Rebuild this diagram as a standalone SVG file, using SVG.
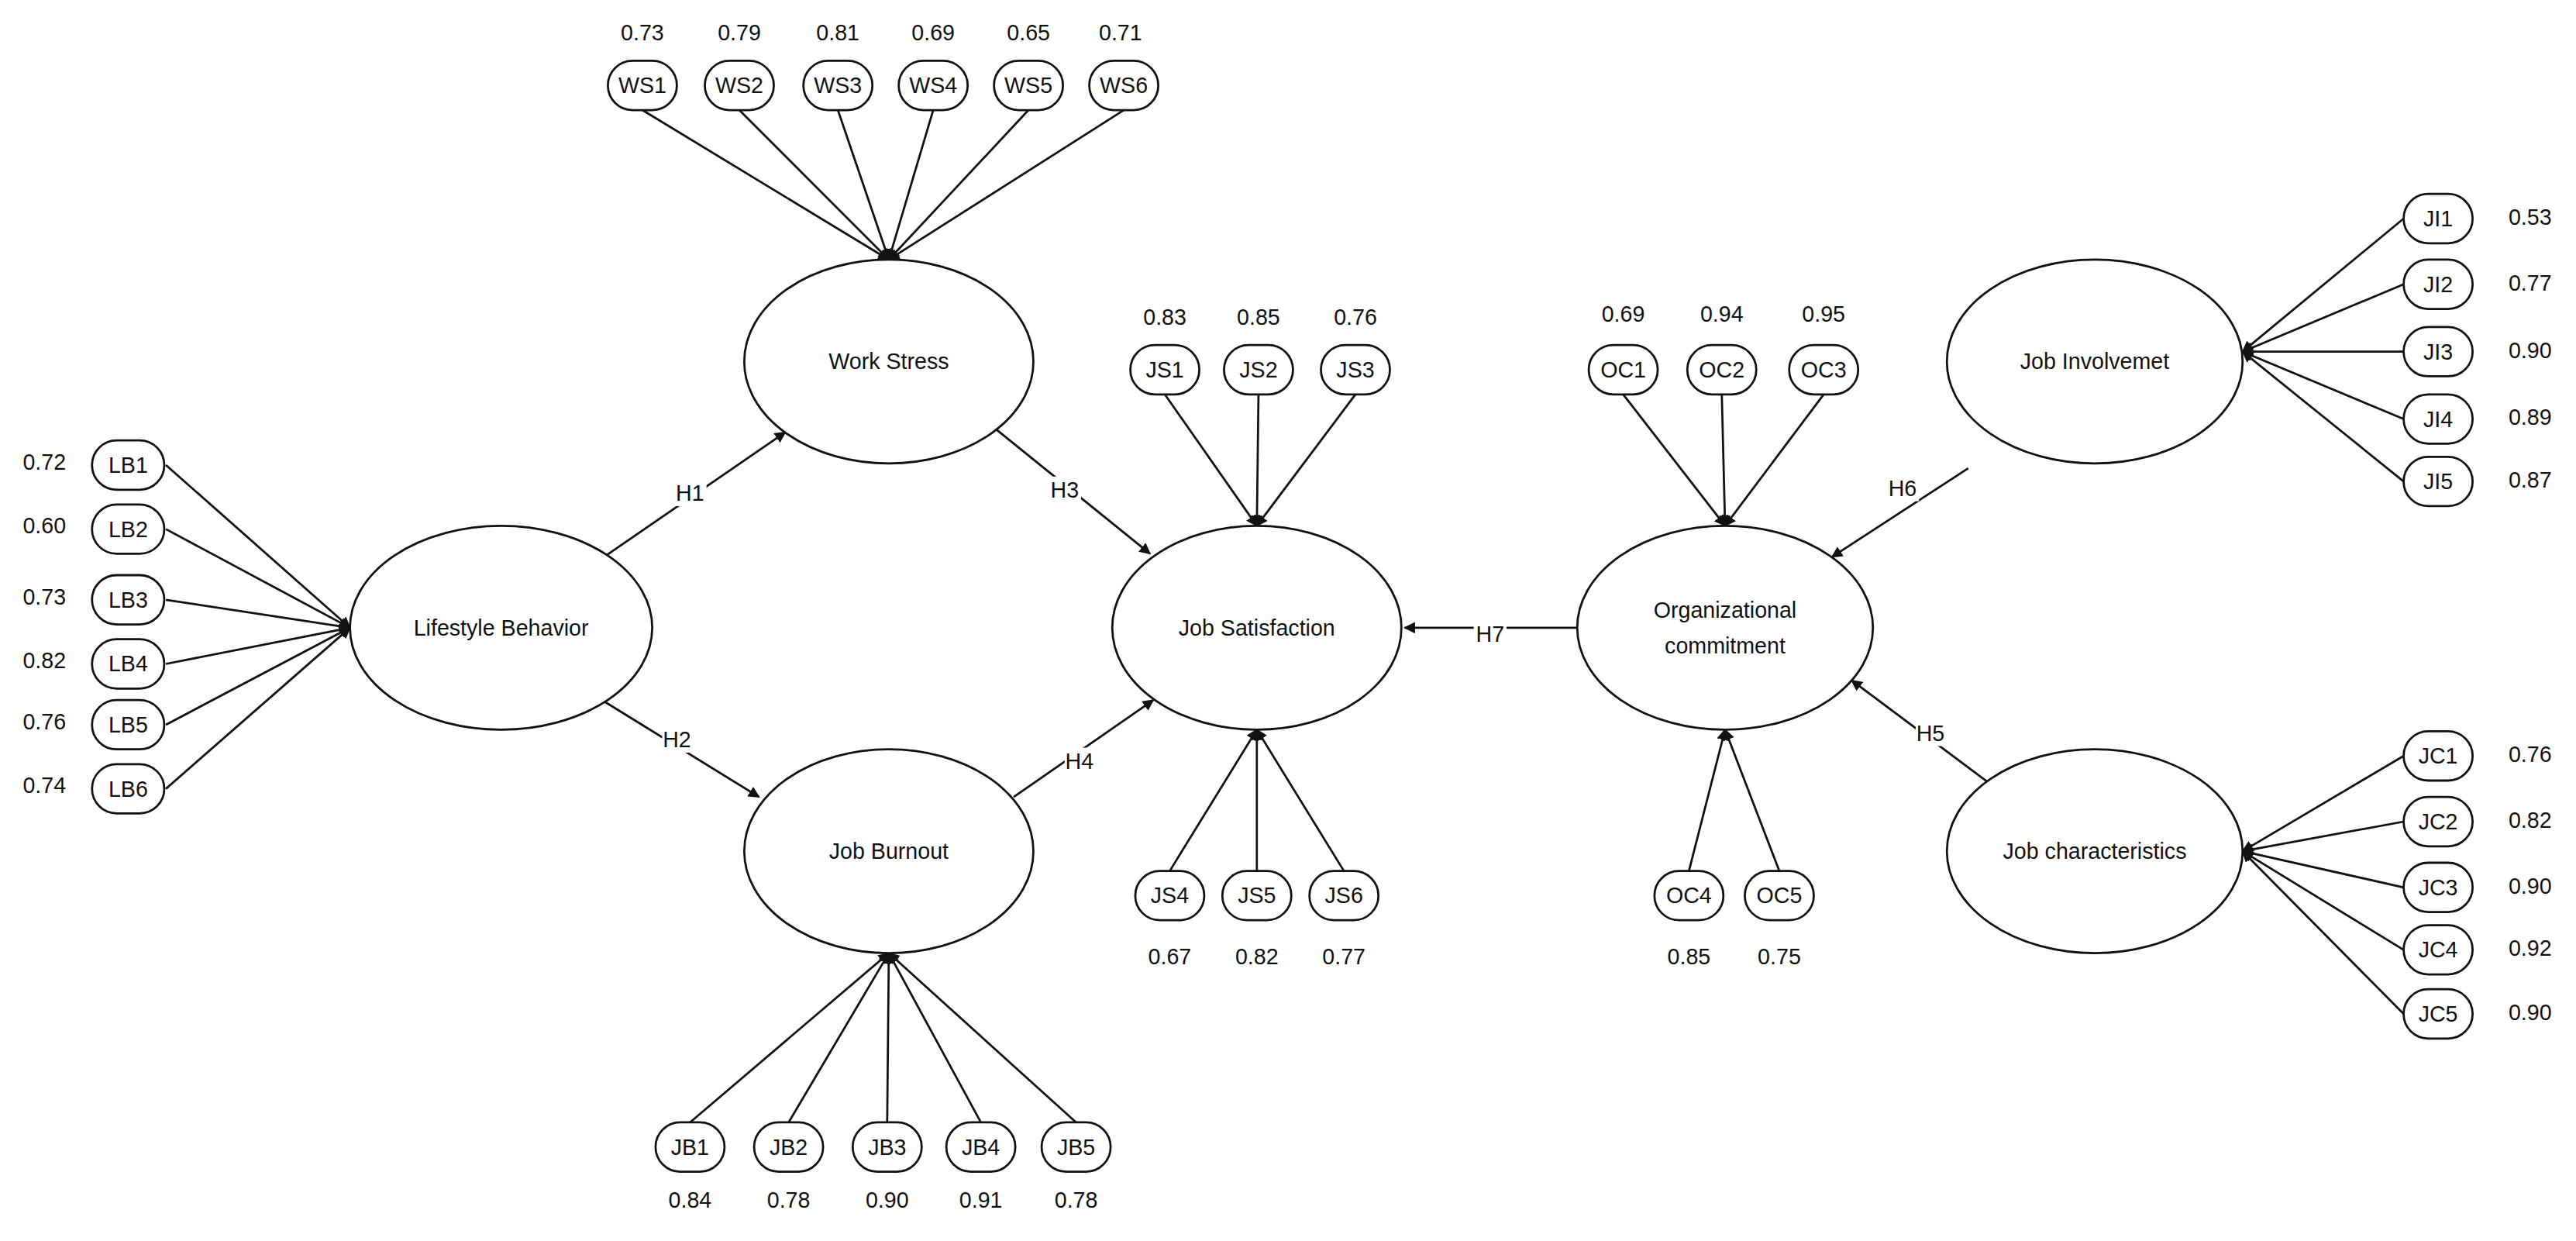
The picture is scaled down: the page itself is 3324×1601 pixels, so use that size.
<svg xmlns="http://www.w3.org/2000/svg" width="3324" height="1601" viewBox="0 0 3324 1601">
<style>
text{font-family:"Liberation Sans",Arial,sans-serif;font-size:13.5px;fill:#111;text-anchor:middle;dominant-baseline:central}
.lv{fill:#fff;stroke:#111;stroke-width:1.3}
.ind{fill:#fff;stroke:#111;stroke-width:1.3}
.c line{stroke:#111;stroke-width:1.3;marker-end:url(#a)}
.lb{fill:#fff}
</style>
<defs><marker id="a" viewBox="0 0 10 10" refX="9" refY="5" markerWidth="7" markerHeight="7" orient="auto" markerUnits="userSpaceOnUse"><path d="M0,0 L10,5 L0,10 Z" fill="#111"/></marker></defs>
<rect width="3324" height="1601" fill="#fff"/>
<g transform="scale(2.12)">
<g class="c" id="connectors">
<line x1="391" y1="67" x2="541" y2="158"/><line x1="450" y1="67" x2="541" y2="158"/><line x1="510" y1="67" x2="541" y2="158"/><line x1="568" y1="67" x2="541" y2="158"/><line x1="626" y1="67" x2="541" y2="158"/><line x1="684" y1="67" x2="541" y2="158"/>
<line x1="101" y1="283" x2="213" y2="382"/><line x1="101" y1="322" x2="213" y2="382"/><line x1="101" y1="365" x2="213" y2="382"/><line x1="101" y1="404" x2="213" y2="382"/><line x1="101" y1="441" x2="213" y2="382"/><line x1="101" y1="480" x2="213" y2="382"/>
<line x1="420" y1="683" x2="541" y2="580"/><line x1="480" y1="683" x2="541" y2="580"/><line x1="540" y1="683" x2="541" y2="580"/><line x1="597" y1="683" x2="541" y2="580"/><line x1="655" y1="683" x2="541" y2="580"/>
<line x1="709" y1="240" x2="765" y2="320"/><line x1="766" y1="240" x2="765" y2="320"/><line x1="825" y1="240" x2="765" y2="320"/>
<line x1="712" y1="530" x2="765" y2="444"/><line x1="765" y1="530" x2="765" y2="444"/><line x1="818" y1="530" x2="765" y2="444"/>
<line x1="988" y1="240" x2="1050" y2="320"/><line x1="1048" y1="240" x2="1050" y2="320"/><line x1="1110" y1="240" x2="1050" y2="320"/>
<line x1="1028" y1="530" x2="1050" y2="444"/><line x1="1083" y1="530" x2="1050" y2="444"/>
<line x1="1463" y1="133" x2="1365" y2="214"/><line x1="1463" y1="173" x2="1365" y2="214"/><line x1="1463" y1="214" x2="1365" y2="214"/><line x1="1463" y1="255" x2="1365" y2="214"/><line x1="1463" y1="293" x2="1365" y2="214"/>
<line x1="1463" y1="460" x2="1365" y2="518"/><line x1="1463" y1="500" x2="1365" y2="518"/><line x1="1463" y1="540" x2="1365" y2="518"/><line x1="1463" y1="578" x2="1365" y2="518"/><line x1="1463" y1="617" x2="1365" y2="518"/>
<line x1="366" y1="340" x2="478" y2="263"/><line x1="368" y1="427" x2="462" y2="485"/><line x1="606" y1="261" x2="700" y2="337"/><line x1="617" y1="485" x2="702" y2="426"/>
<line x1="960" y1="382" x2="855" y2="382"/><line x1="1198" y1="285" x2="1115" y2="339"/><line x1="1210" y1="476" x2="1127" y2="414"/>
<g><rect class="lb" x="411" y="292" width="19" height="16"/><text x="420" y="300">H1</text>
<rect class="lb" x="403" y="442" width="19" height="16"/><text x="412" y="450">H2</text>
<rect class="lb" x="639" y="290" width="19" height="16"/><text x="648" y="298">H3</text>
<rect class="lb" x="648" y="455" width="19" height="16"/><text x="657" y="463">H4</text>
<rect class="lb" x="897" y="378" width="20" height="16"/><text x="907" y="386">H7</text>
<rect class="lb" x="1149" y="289" width="19" height="16"/><text x="1158" y="297">H6</text>
<rect class="lb" x="1166" y="438" width="19" height="16"/><text x="1175" y="446">H5</text></g>
</g>
<g id="WorkStress"><ellipse class="lv" cx="541" cy="220" rx="88" ry="62"/><text x="541" y="220">Work Stress</text></g>
<g id="Lifestyle"><ellipse class="lv" cx="305" cy="382" rx="92" ry="62"/><text x="305" y="382">Lifestyle Behavior</text></g>
<g id="JobBurnout"><ellipse class="lv" cx="541" cy="518" rx="88" ry="62"/><text x="541" y="518">Job Burnout</text></g>
<g id="JobSatisfaction"><ellipse class="lv" cx="765" cy="382" rx="88" ry="62"/><text x="765" y="382">Job Satisfaction</text></g>
<g id="OrgCommit"><ellipse class="lv" cx="1050" cy="382" rx="90" ry="62"/><text x="1050" y="371">Organizational</text><text x="1050" y="393">commitment</text></g>
<g id="JobInvolvement"><ellipse class="lv" cx="1275" cy="220" rx="90" ry="62"/><text x="1275" y="220">Job Involvemet</text></g>
<g id="JobChar"><ellipse class="lv" cx="1275" cy="518" rx="90" ry="62"/><text x="1275" y="518">Job characteristics</text></g>
<g id="WS">
<rect class="ind" x="370" y="37" width="42" height="30" rx="15"/><text x="391" y="52">WS1</text><text x="391" y="20">0.73</text>
<rect class="ind" x="429" y="37" width="42" height="30" rx="15"/><text x="450" y="52">WS2</text><text x="450" y="20">0.79</text>
<rect class="ind" x="489" y="37" width="42" height="30" rx="15"/><text x="510" y="52">WS3</text><text x="510" y="20">0.81</text>
<rect class="ind" x="547" y="37" width="42" height="30" rx="15"/><text x="568" y="52">WS4</text><text x="568" y="20">0.69</text>
<rect class="ind" x="605" y="37" width="42" height="30" rx="15"/><text x="626" y="52">WS5</text><text x="626" y="20">0.65</text>
<rect class="ind" x="663" y="37" width="42" height="30" rx="15"/><text x="684" y="52">WS6</text><text x="682" y="20">0.71</text>
</g>
<g id="LB">
<rect class="ind" x="56" y="268" width="44" height="30" rx="15"/><text x="78" y="283">LB1</text><text x="27" y="281">0.72</text>
<rect class="ind" x="56" y="307" width="44" height="30" rx="15"/><text x="78" y="322">LB2</text><text x="27" y="320">0.60</text>
<rect class="ind" x="56" y="350" width="44" height="30" rx="15"/><text x="78" y="365">LB3</text><text x="27" y="363">0.73</text>
<rect class="ind" x="56" y="389" width="44" height="30" rx="15"/><text x="78" y="404">LB4</text><text x="27" y="402">0.82</text>
<rect class="ind" x="56" y="426" width="44" height="30" rx="15"/><text x="78" y="441">LB5</text><text x="27" y="439">0.76</text>
<rect class="ind" x="56" y="465" width="44" height="30" rx="15"/><text x="78" y="480">LB6</text><text x="27" y="478">0.74</text>
</g>
<g id="JB">
<rect class="ind" x="399" y="683" width="42" height="30" rx="15"/><text x="420" y="698">JB1</text><text x="420" y="730">0.84</text>
<rect class="ind" x="459" y="683" width="42" height="30" rx="15"/><text x="480" y="698">JB2</text><text x="480" y="730">0.78</text>
<rect class="ind" x="519" y="683" width="42" height="30" rx="15"/><text x="540" y="698">JB3</text><text x="540" y="730">0.90</text>
<rect class="ind" x="576" y="683" width="42" height="30" rx="15"/><text x="597" y="698">JB4</text><text x="597" y="730">0.91</text>
<rect class="ind" x="634" y="683" width="42" height="30" rx="15"/><text x="655" y="698">JB5</text><text x="655" y="730">0.78</text>
</g>
<g id="JS">
<rect class="ind" x="688" y="210" width="42" height="30" rx="15"/><text x="709" y="225">JS1</text><text x="709" y="193">0.83</text>
<rect class="ind" x="745" y="210" width="42" height="30" rx="15"/><text x="766" y="225">JS2</text><text x="766" y="193">0.85</text>
<rect class="ind" x="804" y="210" width="42" height="30" rx="15"/><text x="825" y="225">JS3</text><text x="825" y="193">0.76</text>
<rect class="ind" x="691" y="530" width="42" height="30" rx="15"/><text x="712" y="545">JS4</text><text x="712" y="582">0.67</text>
<rect class="ind" x="744" y="530" width="42" height="30" rx="15"/><text x="765" y="545">JS5</text><text x="765" y="582">0.82</text>
<rect class="ind" x="797" y="530" width="42" height="30" rx="15"/><text x="818" y="545">JS6</text><text x="818" y="582">0.77</text>
</g>
<g id="OC">
<rect class="ind" x="967" y="210" width="42" height="30" rx="15"/><text x="988" y="225">OC1</text><text x="988" y="191">0.69</text>
<rect class="ind" x="1027" y="210" width="42" height="30" rx="15"/><text x="1048" y="225">OC2</text><text x="1048" y="191">0.94</text>
<rect class="ind" x="1089" y="210" width="42" height="30" rx="15"/><text x="1110" y="225">OC3</text><text x="1110" y="191">0.95</text>
<rect class="ind" x="1007" y="530" width="42" height="30" rx="15"/><text x="1028" y="545">OC4</text><text x="1028" y="582">0.85</text>
<rect class="ind" x="1062" y="530" width="42" height="30" rx="15"/><text x="1083" y="545">OC5</text><text x="1083" y="582">0.75</text>
</g>
<g id="JI">
<rect class="ind" x="1463" y="118" width="42" height="30" rx="15"/><text x="1484" y="133">JI1</text><text x="1540" y="132">0.53</text>
<rect class="ind" x="1463" y="158" width="42" height="30" rx="15"/><text x="1484" y="173">JI2</text><text x="1540" y="172">0.77</text>
<rect class="ind" x="1463" y="199" width="42" height="30" rx="15"/><text x="1484" y="214">JI3</text><text x="1540" y="213">0.90</text>
<rect class="ind" x="1463" y="240" width="42" height="30" rx="15"/><text x="1484" y="255">JI4</text><text x="1540" y="254">0.89</text>
<rect class="ind" x="1463" y="278" width="42" height="30" rx="15"/><text x="1484" y="293">JI5</text><text x="1540" y="292">0.87</text>
</g>
<g id="JC">
<rect class="ind" x="1463" y="445" width="42" height="30" rx="15"/><text x="1484" y="460">JC1</text><text x="1540" y="459">0.76</text>
<rect class="ind" x="1463" y="485" width="42" height="30" rx="15"/><text x="1484" y="500">JC2</text><text x="1540" y="499">0.82</text>
<rect class="ind" x="1463" y="525" width="42" height="30" rx="15"/><text x="1484" y="540">JC3</text><text x="1540" y="539">0.90</text>
<rect class="ind" x="1463" y="563" width="42" height="30" rx="15"/><text x="1484" y="578">JC4</text><text x="1540" y="577">0.92</text>
<rect class="ind" x="1463" y="602" width="42" height="30" rx="15"/><text x="1484" y="617">JC5</text><text x="1540" y="616">0.90</text>
</g>
</g>
</svg>
